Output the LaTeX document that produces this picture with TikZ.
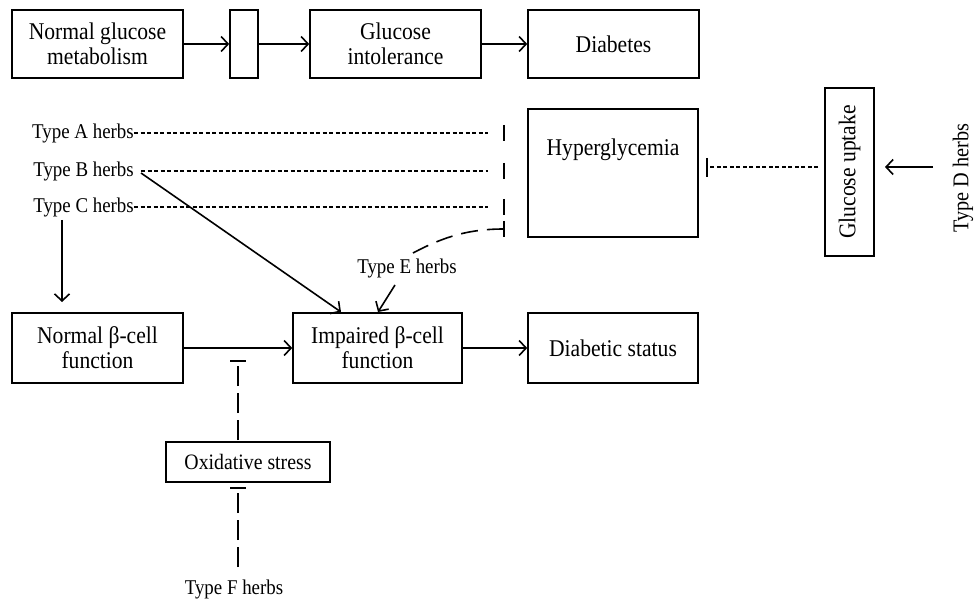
\documentclass[tikz,border=0pt]{standalone}
\usepackage{fontspec}
\setmainfont{Liberation Serif}[FakeStretch=0.9]
\usetikzlibrary{arrows.meta}
\begin{document}
\begin{tikzpicture}[x=1pt,y=-1pt,
 box/.style={draw, line width=1.6pt, inner sep=0pt, align=center, font=\fontsize{24}{25}\selectfont},
 pbox/.style={draw, line width=1.6pt, inner sep=0pt, align=center, font=\fontsize{22}{24}\selectfont},
 lbl/.style={inner sep=0pt, font=\fontsize{21}{24}\selectfont},
 arr/.style={line width=1.6pt, -{Straight Barb[length=7pt,width=15pt,line width=1.6pt]}},
 dotl/.style={line width=1.4pt, dash pattern=on 4pt off 2.5pt},
 longd/.style={line width=1.6pt, dash pattern=on 20pt off 7pt},
 ed/.style={line width=1.6pt, dash pattern=on 17pt off 9pt},
 barl/.style={line width=1.8pt}]
\useasboundingbox (0,0) rectangle (976,601);

% top row
\node[box, minimum width=171pt, minimum height=68pt] (ngm) at (97.5,44) {Normal glucose\\metabolism};
\node[box, minimum width=28pt, minimum height=68pt] (sb) at (244,44) {};
\node[box, minimum width=171pt, minimum height=68pt] (gi) at (395.5,44) {Glucose\\intolerance};
\node[box, minimum width=171pt, minimum height=68pt] (dia) at (613.5,44) {Diabetes};
\draw[arr] (ngm) -- (sb);
\draw[arr] (sb) -- (gi);
\draw[arr] (gi) -- (dia);

% hyperglycemia
\node[box, minimum width=170pt, minimum height=128pt, anchor=north] (hyp) at (613,108) {};
\node[lbl, font=\fontsize{24}{24}\selectfont] (hyptext) at (613,150) {Hyperglycemia};

% glucose uptake
\node[pbox, rotate=90, minimum width=168pt, minimum height=49pt, font=\fontsize{24}{24}\selectfont] (gu) at (849.5,172) {Glucose uptake};
\node[lbl, rotate=90, font=\fontsize{22.5}{24}\selectfont] (tD) at (963,178) {Type D herbs};
\coordinate (tDa) at (933,167);
\coordinate (guin) at (885,167);
\draw[arr] (tDa) -- (guin);
\coordinate (gus) at (818,167);
\coordinate (gue) at (707,167);
\coordinate (gub1) at (707,158);
\coordinate (gub2) at (707,177);
\draw[dotl] (gus) -- (gue);
\draw[barl] (gub1) -- (gub2);

% herbs A B C
\node[lbl, anchor=east] (tA) at (134,133) {Type A herbs};
\node[lbl, anchor=east] (tB) at (134,171) {Type B herbs};
\node[lbl, anchor=east] (tC) at (134,207) {Type C herbs};
\coordinate (eA) at (488,133);
\coordinate (eB) at (488,171);
\coordinate (eC) at (488,207);
\coordinate (sB) at (141,171);
\draw[dotl] (tA.east) -- (eA);
\draw[dotl] (sB) -- (eB);
\draw[dotl] (tC.east) -- (eC);
\draw[barl] (504,125) -- (504,141);
\draw[barl] (504,163) -- (504,179);
\draw[barl] (504,199) -- (504,215);
\draw[barl] (504,221) -- (504,237);

% lower row
\node[box, minimum width=171pt, minimum height=70pt] (nb) at (97.5,348) {Normal β-cell\\function};
\node[box, minimum width=169pt, minimum height=70pt] (ib) at (377.5,348) {Impaired β-cell\\function};
\node[box, minimum width=170pt, minimum height=70pt] (ds) at (613,348) {Diabetic status};
\draw[arr] (nb) -- (ib);
\draw[arr] (ib) -- (ds);

% Type C -> normal beta
\coordinate (cS) at (62,220);
\coordinate (cE) at (62,302);
\draw[arr] (cS) -- (cE);

% Type B -> impaired
\coordinate (bS) at (141,173);
\coordinate (bE) at (341,312);
\draw[arr] (bS) -- (bE);

% Type E
\node[lbl] (tE) at (407,268) {Type E herbs};
\coordinate (eS) at (395,285);
\coordinate (eE) at (378,312);
\draw[arr] (eS) -- (eE);
\coordinate (eC1) at (413,253);
\coordinate (eC2) at (504,229);
\draw[ed] (eC1) .. controls (445,236) and (470,229) .. (eC2);

% oxidative stress
\node[pbox, minimum width=164pt, minimum height=40pt] (ox) at (248,462) {Oxidative stress};
\coordinate (o1) at (238,440);
\coordinate (o2) at (238,361);
\draw[longd] (o1) -- (o2);
\draw[barl] (230,361) -- (246,361);
\node[lbl] (tF) at (234,589) {Type F herbs};
\coordinate (f1) at (238,567);
\coordinate (f2) at (238,488);
\draw[longd] (f1) -- (f2);
\draw[barl] (230,488) -- (246,488);
\end{tikzpicture}
\end{document}
